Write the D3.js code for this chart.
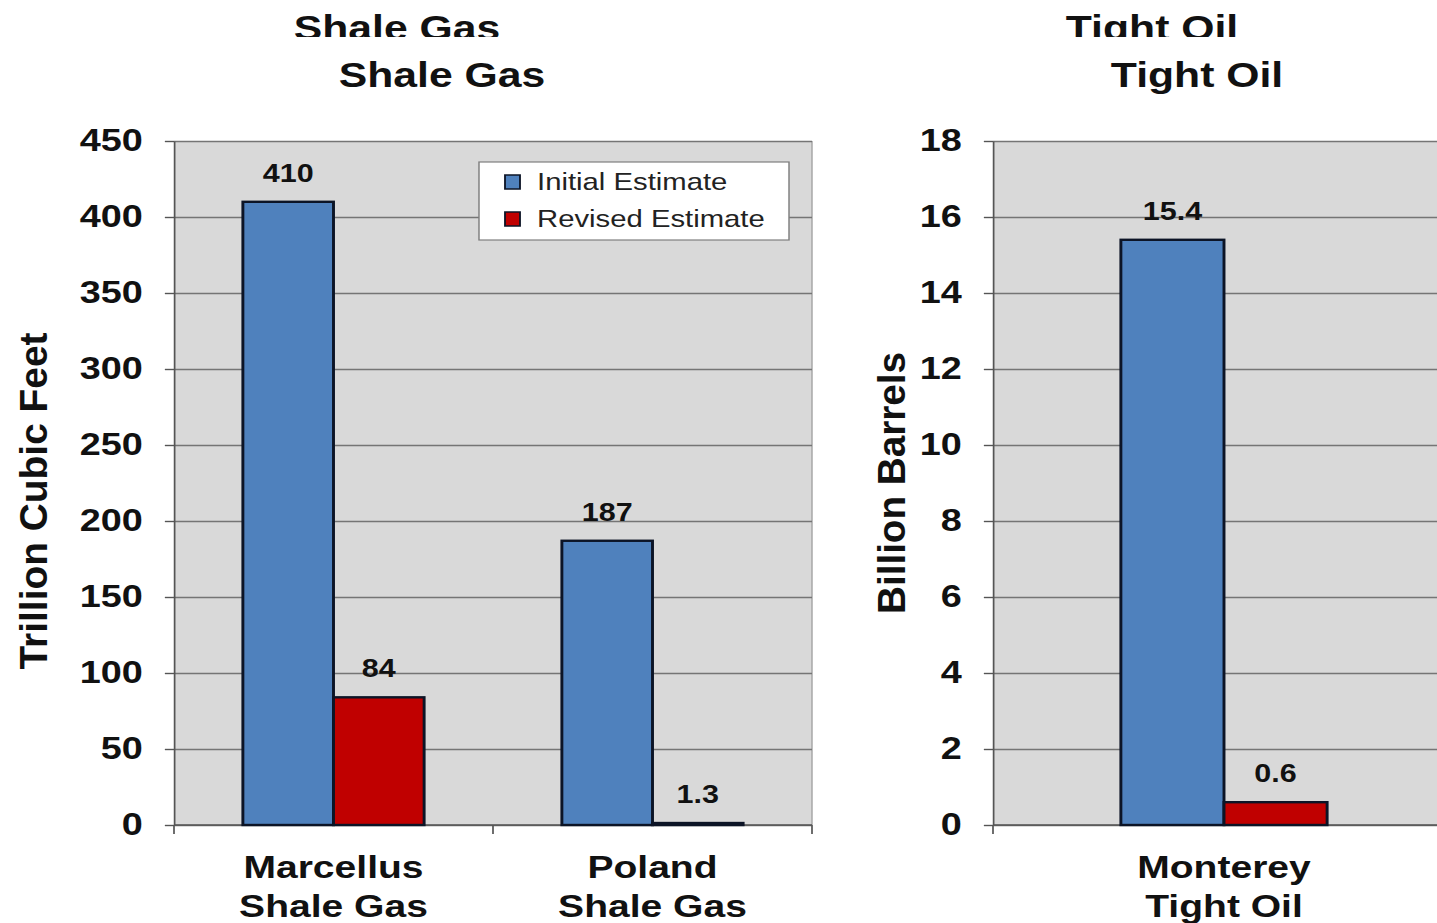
<!DOCTYPE html>
<meta charset='utf-8'>
<style>
body { margin: 0; background: #fff; }
text { font-family: 'Liberation Sans', Arial, sans-serif; }
</style>
<body>
<script src='https://d3js.org/d3.v7.min.js'></script>
<script>
// data
var series = ['Initial Estimate', 'Revised Estimate'];
var gasCategories = ['Marcellus Shale Gas', 'Poland Shale Gas'];
var gasLines = [['Marcellus', 'Shale Gas'], ['Poland', 'Shale Gas']];
var gasInitial = [410, 187];
var gasRevised = [84, 1.3];
var gasTicks = [0, 50, 100, 150, 200, 250, 300, 350, 400, 450];

var oilCategories = ['Monterey Tight Oil'];
var oilLines = [['Monterey', 'Tight Oil']];
var oilInitial = [15.4];
var oilRevised = [0.6];
var oilTicks = [0, 2, 4, 6, 8, 10, 12, 14, 16, 18];

var colors = { 'Initial Estimate': '#4f81bd', 'Revised Estimate': '#c00000' };

// the whole picture is stretched sideways
var sx = 1.22;
var plotTop = 141, plotBottom = 825;

var svg = d3.select('body').append('svg')
    .attr('width', 1437)
    .attr('height', 923);

svg.append('rect').attr('width', 1437).attr('height', 923).attr('fill', '#fff');

svg.append('defs').append('clipPath')
    .attr('id', 'topclip')
    .append('rect')
    .attr('x', 0).attr('y', 0).attr('width', 2000).attr('height', 37);

var g = svg.append('g').attr('transform', 'scale(' + sx + ',1)');

function panel(opt) {
  var y = d3.scaleLinear().domain([0, opt.yMax]).range([plotBottom, plotTop]);
  var x0 = d3.scaleBand()
      .domain(opt.categories)
      .range([opt.left, opt.left + opt.bandW * opt.categories.length]);
  var x1 = d3.scaleBand()
      .domain(series)
      .range([0, x0.bandwidth()])
      .paddingInner(0)
      .paddingOuter(opt.barPad);

  var p = g.append('g');

  // plot area
  p.append('rect')
      .attr('x', opt.left)
      .attr('y', y(opt.yMax))
      .attr('width', opt.plotW)
      .attr('height', y(0) - y(opt.yMax))
      .attr('fill', '#d9d9d9');

  if (opt.border) {
    p.append('line')
        .attr('x1', opt.left + opt.plotW).attr('x2', opt.left + opt.plotW)
        .attr('y1', y(opt.yMax)).attr('y2', y(0))
        .attr('stroke', '#a6a6a6').attr('stroke-width', 1.2);
  }

  // gridlines
  var grid = p.append('g')
      .attr('transform', 'translate(' + opt.left + ',0)')
      .call(d3.axisLeft(y).tickValues(opt.ticks).tickSize(-opt.plotW).tickFormat(''));
  grid.select('.domain').remove();
  grid.selectAll('line').attr('stroke', '#757575').attr('stroke-width', 1.6);

  // y axis
  var ax = p.append('g')
      .attr('transform', 'translate(' + opt.left + ',0)')
      .call(d3.axisLeft(y).tickValues(opt.ticks).tickSize(7.5).tickSizeOuter(0).tickPadding(18));
  ax.select('.domain').attr('stroke', '#555').attr('stroke-width', 1.4);
  ax.selectAll('line').attr('stroke', '#555').attr('stroke-width', 1.4);
  ax.selectAll('text')
      .attr('font-size', 31)
      .attr('font-weight', 'bold')
      .attr('fill', '#111');

  // category axis
  var ends = opt.categories.map(function(c) { return x0(c); });
  ends.push(x0(opt.categories[opt.categories.length - 1]) + x0.bandwidth());
  p.append('line')
      .attr('x1', opt.left).attr('x2', opt.left + opt.plotW)
      .attr('y1', y(0)).attr('y2', y(0))
      .attr('stroke', '#555').attr('stroke-width', 1.4);
  p.selectAll('.ctick').data(ends).enter().append('line')
      .attr('x1', function(d) { return d; }).attr('x2', function(d) { return d; })
      .attr('y1', y(0)).attr('y2', y(0) + 9)
      .attr('stroke', '#555').attr('stroke-width', 1.4);

  var cl = p.selectAll('.clabel').data(opt.categories).enter().append('text')
      .attr('text-anchor', 'middle')
      .attr('font-size', 32)
      .attr('font-weight', 'bold')
      .attr('fill', '#111');
  cl.each(function(c, i) {
    var t = d3.select(this);
    opt.lines[i].forEach(function(s, k) {
      t.append('tspan')
          .attr('x', x0(c) + x0.bandwidth() / 2)
          .attr('y', 878 + k * 39)
          .text(s);
    });
  });

  // bars
  var rows = [];
  opt.categories.forEach(function(c, i) {
    series.forEach(function(s) {
      rows.push({ cat: c, s: s, v: opt.values[s][i] });
    });
  });

  p.selectAll('.bar').data(rows).enter().append('rect')
      .attr('x', function(d) { return x0(d.cat) + x1(d.s); })
      .attr('y', function(d) { return y(d.v); })
      .attr('width', x1.bandwidth())
      .attr('height', function(d) { return y(0) - y(d.v); })
      .attr('fill', function(d) { return colors[d.s]; })
      .attr('stroke', '#0c1426')
      .attr('stroke-width', 2.4);

  p.selectAll('.val').data(rows).enter().append('text')
      .attr('x', function(d) { return x0(d.cat) + x1(d.s) + x1.bandwidth() / 2; })
      .attr('y', function(d) { return y(d.v) - 20; })
      .attr('text-anchor', 'middle')
      .attr('font-size', 25)
      .attr('font-weight', 'bold')
      .attr('fill', '#111')
      .text(function(d) { return d.v; });

  // titles (one repeated copy cut off at the top edge)
  p.append('text')
      .attr('x', opt.titleX)
      .attr('y', 87)
      .attr('text-anchor', 'middle')
      .attr('font-size', 35)
      .attr('font-weight', 'bold')
      .attr('fill', '#111')
      .text(opt.title);
  p.append('text')
      .attr('x', opt.ghostX)
      .attr('y', 40)
      .attr('clip-path', 'url(#topclip)')
      .attr('text-anchor', 'middle')
      .attr('font-size', 35)
      .attr('font-weight', 'bold')
      .attr('fill', '#111')
      .text(opt.title);

  // y axis title
  p.append('text')
      .attr('transform', 'translate(' + opt.yTitleX + ',' + opt.yTitleY + ') rotate(-90)')
      .attr('text-anchor', 'middle')
      .attr('font-size', 32)
      .attr('font-weight', 'bold')
      .attr('fill', '#111')
      .attr('textLength', opt.yTitleLen)
      .attr('lengthAdjust', 'spacingAndGlyphs')
      .text(opt.yTitle);
}

panel({
  categories: gasCategories,
  lines: gasLines,
  values: { 'Initial Estimate': gasInitial, 'Revised Estimate': gasRevised },
  yMax: 450,
  ticks: gasTicks,
  left: 174 / sx,
  plotW: 638 / sx,
  bandW: 319 / sx,
  barPad: 0.76,
  border: true,
  title: 'Shale Gas',
  titleX: 442 / sx,
  ghostX: 397 / sx,
  yTitle: 'Trillion Cubic Feet',
  yTitleX: 47 / sx,
  yTitleY: 501,
  yTitleLen: 337
});

panel({
  categories: oilCategories,
  lines: oilLines,
  values: { 'Initial Estimate': oilInitial, 'Revised Estimate': oilRevised },
  yMax: 18,
  ticks: oilTicks,
  left: 993 / sx,
  plotW: 470 / sx,
  bandW: 462 / sx,
  barPad: 1.24,
  border: false,
  title: 'Tight Oil',
  titleX: 1197 / sx,
  ghostX: 1152 / sx,
  yTitle: 'Billion Barrels',
  yTitleX: 905 / sx,
  yTitleY: 483,
  yTitleLen: 262
});

// legend
var lg = g.append('g').attr('transform', 'translate(' + (479 / sx) + ',162)');
lg.append('rect')
    .attr('width', 310 / sx)
    .attr('height', 78)
    .attr('fill', '#fff')
    .attr('stroke', '#7f7f7f')
    .attr('stroke-width', 1.2);
var item = lg.selectAll('.item').data(series).enter().append('g')
    .attr('transform', function(d, i) { return 'translate(' + (26 / sx) + ',' + (13 + i * 37) + ')'; });
item.append('rect')
    .attr('width', 15 / sx)
    .attr('height', 14)
    .attr('fill', function(d) { return colors[d]; })
    .attr('stroke', '#0c1426')
    .attr('stroke-width', 1.5);
item.append('text')
    .attr('x', 32 / sx)
    .attr('y', 15)
    .attr('font-size', 24)
    .attr('fill', '#222')
    .text(function(d) { return d; });
</script>
</body>
